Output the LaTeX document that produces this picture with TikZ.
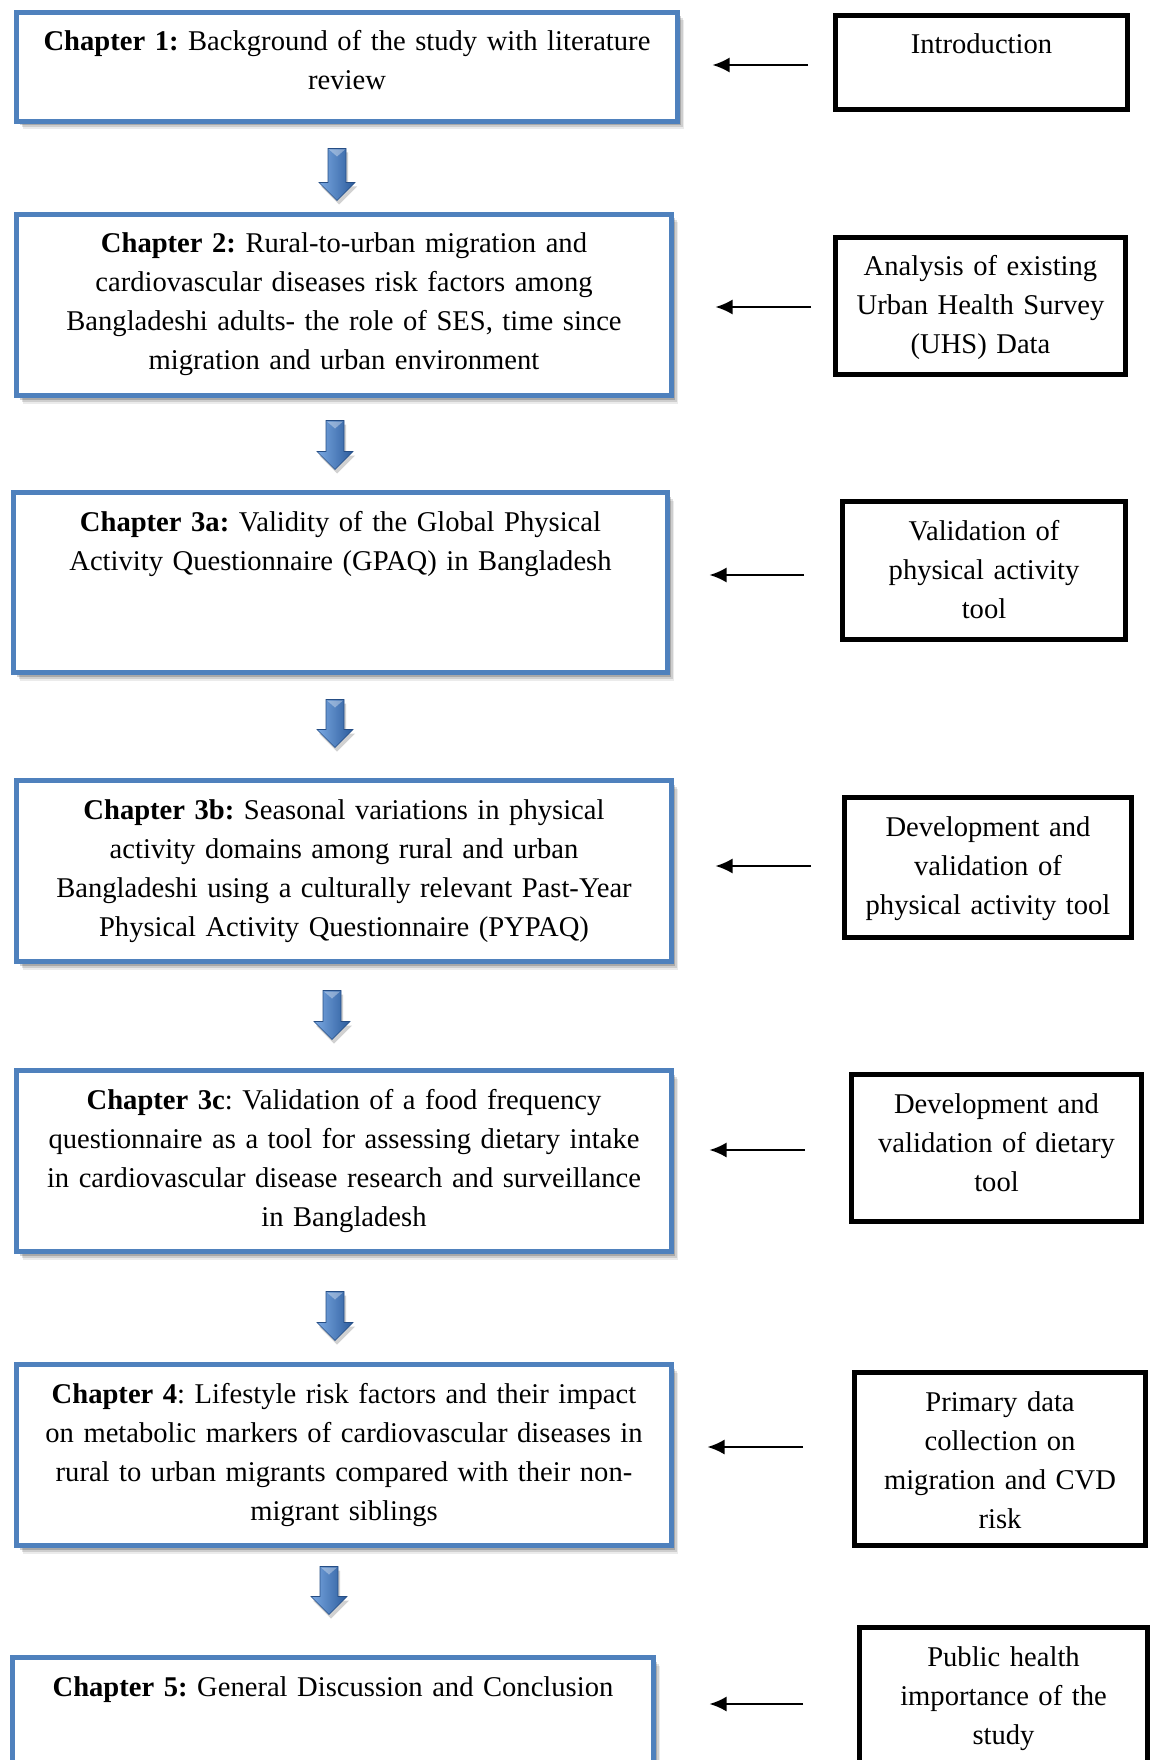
\documentclass[tikz,border=0pt]{standalone}
\usepackage{fontspec}
\setmainfont{Liberation Serif}
\usetikzlibrary{arrows.meta,shadows,calc}

\definecolor{chapblue}{HTML}{4F81BD}
\definecolor{arrowlight}{HTML}{7AA8E2}
\definecolor{arrowdark}{HTML}{2B5B9B}

\tikzset{
  chapbox/.style={draw=chapblue, line width=5pt, fill=white, inner sep=0pt,
    general shadow={fill=black, opacity=0.08, shadow xshift=6pt, shadow yshift=-8pt},
    general shadow={fill=black, opacity=0.12, shadow xshift=5pt, shadow yshift=-6pt},
    general shadow={fill=black, opacity=0.18, shadow xshift=3.5pt, shadow yshift=-4pt}},
  infobox/.style={draw=black, line width=5pt, fill=white, inner sep=0pt},
  chaptext/.style={anchor=base, inner sep=0pt, align=center, text width=650pt,
    font=\fontsize{28.6}{39}\selectfont},
  infotext/.style={anchor=base, inner sep=0pt, align=center, text width=290pt,
    font=\fontsize{28.6}{39}\selectfont},
  thinarrow/.style={draw=black, line width=2pt, -{Latex[length=17pt,width=15pt]}},
  blockarrow/.style={left color=arrowlight, right color=arrowdark,
    draw=arrowdark!85!black, line width=0.6pt,
    general shadow={fill=black, opacity=0.18, shadow xshift=2pt, shadow yshift=-4pt}},
  arrowgloss/.style={fill=white, opacity=0.35}
}

% Downward block arrow between two chapter boxes:
% #1 upper box, #2 lower box, #3 horizontal offset, #4 gap below #1, #5 gap above #2
\newcommand{\chapterarrow}[5]{%
  \path[blockarrow] let \p1=([shift={(#3,#4)}]#1.south),
                        \p2=([shift={(#3,-#5)}]#2.north) in
    (\x1-9pt,\y1) -- (\x1+9pt,\y1) -- (\x1+9pt,\y2+18pt) -- (\x1+18pt,\y2+18pt)
    -- (\x1,\y2) -- (\x1-18pt,\y2+18pt) -- (\x1-9pt,\y2+18pt) -- cycle;
  % light bevel at the top of the shaft
  \path[arrowgloss] let \p1=([shift={(#3,#4)}]#1.south) in
    (\x1-8pt,\y1-1pt) -- (\x1+8pt,\y1-1pt) -- (\x1,\y1-8pt) -- cycle;
}

\frenchspacing
\begin{document}
\begin{tikzpicture}[x=1pt,y=-1pt]
\useasboundingbox (0,0) rectangle (1152,1760);
\clip (0,0) rectangle (1152,1760);
\fill[white] (0,0) rectangle (1152,1760);

% chapter boxes (left column)
\node[chapbox, minimum width=661pt, minimum height=109pt] (c1)  at (347,67)      {};
\node[chapbox, minimum width=655pt, minimum height=181pt] (c2)  at (344,305)     {};
\node[chapbox, minimum width=654pt, minimum height=180pt] (c3a) at (340.5,582.5) {};
\node[chapbox, minimum width=655pt, minimum height=181pt] (c3b) at (344,871)     {};
\node[chapbox, minimum width=655pt, minimum height=181pt] (c3c) at (344,1161)    {};
\node[chapbox, minimum width=655pt, minimum height=181pt] (c4)  at (344,1455)    {};
\node[chapbox, minimum width=641pt, minimum height=181pt] (c5)  at (333,1748)    {};

\node[chaptext] (c1t) at ([yshift=-41pt]c1.north)
  {\textbf{Chapter 1:} Background of the study with literature\\review};
\node[chaptext] (c2t) at ([yshift=-41pt]c2.north)
  {\textbf{Chapter 2:} Rural-to-urban migration and\\
   cardiovascular diseases risk factors among\\
   Bangladeshi adults- the role of SES, time since\\
   migration and urban environment};
\node[chaptext] (c3at) at ([yshift=-41pt]c3a.north)
  {\textbf{Chapter 3a:} Validity of the Global Physical\\
   Activity Questionnaire (GPAQ) in Bangladesh};
\node[chaptext] (c3bt) at ([yshift=-41pt]c3b.north)
  {\textbf{Chapter 3b:} Seasonal variations in physical\\
   activity domains among rural and urban\\
   Bangladeshi using a culturally relevant Past-Year\\
   Physical Activity Questionnaire (PYPAQ)};
\node[chaptext] (c3ct) at ([yshift=-41pt]c3c.north)
  {\textbf{Chapter 3c}: Validation of a food frequency\\
   questionnaire as a tool for assessing dietary intake\\
   in cardiovascular disease research and surveillance\\
   in Bangladesh};
\node[chaptext] (c4t) at ([yshift=-41pt]c4.north)
  {\textbf{Chapter 4}: Lifestyle risk factors and their impact\\
   on metabolic markers of cardiovascular diseases in\\
   rural to urban migrants compared with their non-\\
   migrant siblings};
\node[chaptext] (c5t) at ([yshift=-41pt]c5.north)
  {\textbf{Chapter 5:} General Discussion and Conclusion};

% block arrows linking the chapters
\chapterarrow{c1}{c2}{-10}{24.5}{11.5}
\chapterarrow{c2}{c3a}{-9}{22.5}{20.5}
\chapterarrow{c3a}{c3b}{-5.5}{24.5}{30.5}
\chapterarrow{c3b}{c3c}{-12}{26.5}{28.5}
\chapterarrow{c3c}{c4}{-9}{37.5}{21.5}
\chapterarrow{c4}{c5}{-15}{18.5}{40.5}

% description boxes (right column)
\node[infobox, minimum width=292pt, minimum height=94pt]  (r1) at (981.5,62.5) {};
\node[infobox, minimum width=290pt, minimum height=137pt] (r2) at (980.5,306)  {};
\node[infobox, minimum width=283pt, minimum height=138pt] (r3) at (984,570.5)  {};
\node[infobox, minimum width=287pt, minimum height=140pt] (r4) at (988,867.5)  {};
\node[infobox, minimum width=290pt, minimum height=147pt] (r5) at (996.5,1148) {};
\node[infobox, minimum width=291pt, minimum height=173pt] (r6) at (1000,1459)  {};
\node[infobox, minimum width=288pt, minimum height=159pt] (r7) at (1003.5,1707){};

\node[infotext] (r1t) at ([yshift=-41pt]r1.north) {Introduction};
\node[infotext] (r2t) at ([yshift=-41pt]r2.north)
  {Analysis of existing\\Urban Health Survey\\(UHS) Data};
\node[infotext] (r3t) at ([yshift=-41pt]r3.north)
  {Validation of\\physical activity\\tool};
\node[infotext] (r4t) at ([yshift=-41pt]r4.north)
  {Development and\\validation of\\physical activity tool};
\node[infotext] (r5t) at ([yshift=-41pt]r5.north)
  {Development and\\validation of dietary\\tool};
\node[infotext] (r6t) at ([yshift=-41pt]r6.north)
  {Primary data\\collection on\\migration and CVD\\risk};
\node[infotext] (r7t) at ([yshift=-41pt]r7.north)
  {Public health\\importance of the\\study};

% thin arrows from each description to its chapter
\coordinate (s1) at ([shift={(-25,2.5)}]r1.west);
\coordinate (s2) at ([shift={(-22,1)}]r2.west);
\coordinate (s3) at ([shift={(-36,4.5)}]r3.west);
\coordinate (s4) at ([shift={(-31,-1.5)}]r4.west);
\coordinate (s5) at ([shift={(-44,2)}]r5.west);
\coordinate (s6) at ([shift={(-49,-12)}]r6.west);
\coordinate (s7) at ([shift={(-54,-3)}]r7.west);

\draw[thinarrow, shorten >=32.5pt] (s1) -- (s1 -| c1.east);
\draw[thinarrow, shorten >=41.5pt] (s2) -- (s2 -| c2.east);
\draw[thinarrow, shorten >=39.5pt] (s3) -- (s3 -| c3a.east);
\draw[thinarrow, shorten >=41.5pt] (s4) -- (s4 -| c3b.east);
\draw[thinarrow, shorten >=35.5pt] (s5) -- (s5 -| c3c.east);
\draw[thinarrow, shorten >=33.5pt] (s6) -- (s6 -| c4.east);
\draw[thinarrow, shorten >=53.5pt] (s7) -- (s7 -| c5.east);
\end{tikzpicture}
\end{document}
